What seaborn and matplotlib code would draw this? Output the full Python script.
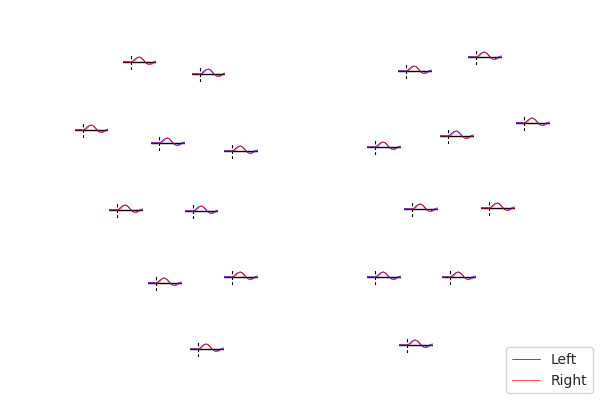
import numpy as np
import pandas as pd
import matplotlib
matplotlib.use("Agg")
import matplotlib.pyplot as plt
from matplotlib.lines import Line2D
import seaborn as sns

# time axis of the evoked responses (s)
times = [-0.2, -0.15, -0.1, -0.05, 0.0, 0.05, 0.1, 0.15, 0.2, 0.25,
         0.3, 0.35, 0.4, 0.45, 0.5, 0.55, 0.6]

# average waveform (uV) for each condition
left = [0.2, 0.4, 0.1, 0.3, 0.0, 1.2, 3.2, 4.7, 5.0, 3.6,
        1.2, -1.1, -2.2, -1.9, -0.7, 0.5, 1.1]
right = [0.0, -0.3, 0.1, 0.0, -0.4, 0.2, 1.8, 4.0, 5.1, 4.2,
         2.0, -0.5, -2.3, -2.7, -1.9, -0.6, 0.1]

# sensor layout: pixel position of each small plot's origin (t=0, y=0)
sensor_x = [131, 200, 83, 159, 232, 117, 193, 156, 232, 198,
            406, 476, 375, 448, 524, 412, 489, 375, 450, 407]
sensor_y = [62, 74, 130, 143, 151, 210, 211, 283, 277, 349,
            71, 57, 147, 136, 123, 209, 208, 277, 277, 345]

df = pd.DataFrame({
    "time": times * 2,
    "amp": left + right,
    "cond": ["Left"] * len(times) + ["Right"] * len(times),
})

sns.set_style("white")
fig = plt.figure(figsize=(6, 4), dpi=100)

W, H = 600, 400
aw, ah = 34, 16
for cx, cy in zip(sensor_x, sensor_y):
    left_px = cx - aw * 0.25
    ax = fig.add_axes([left_px / W, 1 - (cy + ah / 2) / H, aw / W, ah / H])
    ax.axhline(0, color="black", lw=1)
    ax.axvline(0, color="black", lw=0.8, ls=(0, (3, 2)))
    sns.lineplot(data=df, x="time", y="amp", hue="cond",
                 palette={"Left": "blue", "Right": "red"},
                 lw=0.5, legend=False, ax=ax)
    ax.set_xlim(-0.2, 0.6)
    ax.set_ylim(-8, 8)
    ax.axis("off")

handles = [Line2D([], [], color="blue", lw=0.5),
           Line2D([], [], color="red", lw=0.5)]
fig.legend(handles, ["Left", "Right"], loc="lower right", fontsize=10)

fig.savefig("out.png", dpi=100)
